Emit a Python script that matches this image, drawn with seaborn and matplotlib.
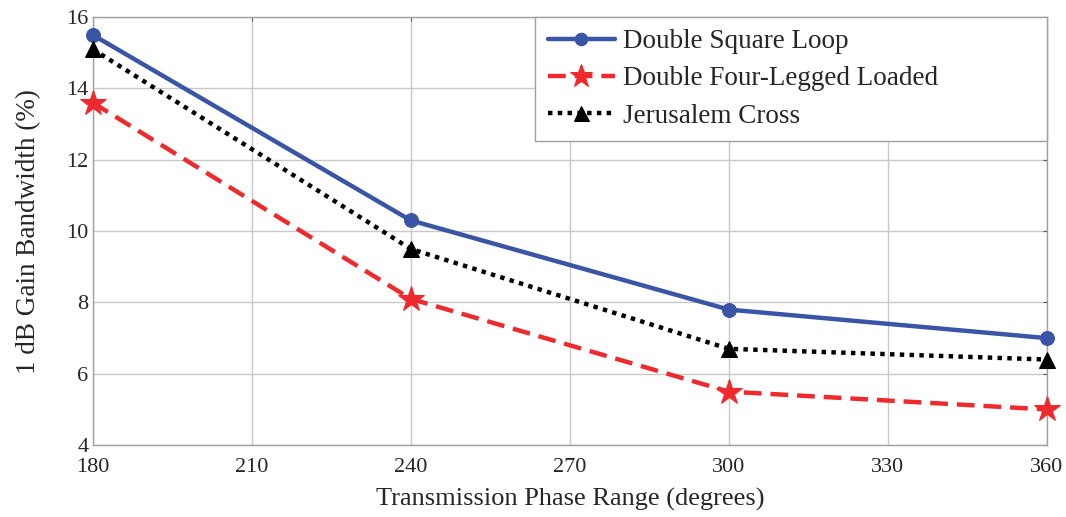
import pandas as pd
import seaborn as sns
import matplotlib.pyplot as plt

phase = [180, 240, 300, 360]
square_loop = [15.5, 10.3, 7.8, 7.0]
four_legged = [13.6, 8.1, 5.5, 5.0]
jerusalem = [15.1, 9.5, 6.7, 6.4]

names = ['Double Square Loop', 'Double Four-Legged Loaded', 'Jerusalem Cross']
series = [square_loop, four_legged, jerusalem]
colors = ['#3b55a6', '#ee2a2e', '#000000']
styles = ['-', (0, (4, 2)), (0, (1, 1.2))]
markers = ['o', '*', '^']
sizes = [10, 19, 12]


def main():
    sns.set_style('white')
    plt.rcParams['font.family'] = ['Liberation Serif', 'DejaVu Serif']

    fig = plt.figure(figsize=(10.66, 5.17), dpi=100)
    ax = fig.add_axes([0.087, 0.139, 0.895, 0.828])

    for name, vals, c, ls, m, ms in zip(names, series, colors, styles, markers, sizes):
        df = pd.DataFrame({'phase': phase, 'bw': vals})
        sns.lineplot(data=df, x='phase', y='bw', color=c, linestyle=ls,
                     marker=m, markersize=ms, markeredgecolor=c,
                     linewidth=3.2, label=name, ax=ax, clip_on=False, zorder=3)

    ax.set_xlim(180, 360)
    ax.set_ylim(4, 16)
    ax.set_xticks(range(180, 361, 30))
    ax.set_yticks(range(4, 17, 2))
    ax.grid(True, color='#c8c8c8', linewidth=1)
    for s in ax.spines.values():
        s.set_color('#a0a0a0')
        s.set_linewidth(1)
    ax.tick_params(axis='both', direction='in', length=3, color='#555555',
                   labelsize=16, right=True, top=True)
    ax.tick_params(axis='x', pad=9)
    ax.tick_params(axis='y', pad=3)
    ax.set_xlabel('Transmission Phase Range (degrees)', fontsize=19, labelpad=8)
    ax.set_ylabel('1 dB Gain Bandwidth (%)', fontsize=19.5, labelpad=18)

    leg = ax.legend(loc='upper left', bbox_to_anchor=(0.464, 0.701, 0.536, 0.299),
                    mode='expand', borderaxespad=0,
                    fontsize=19.5, fancybox=False, framealpha=1,
                    edgecolor='#a0a0a0', handlelength=2.5, handletextpad=0.3,
                    labelspacing=0.45, borderpad=0.45, markerscale=0.9)
    leg.get_frame().set_linewidth(1)

    fig.savefig('out.png', dpi=100)


if __name__ == '__main__':
    main()
